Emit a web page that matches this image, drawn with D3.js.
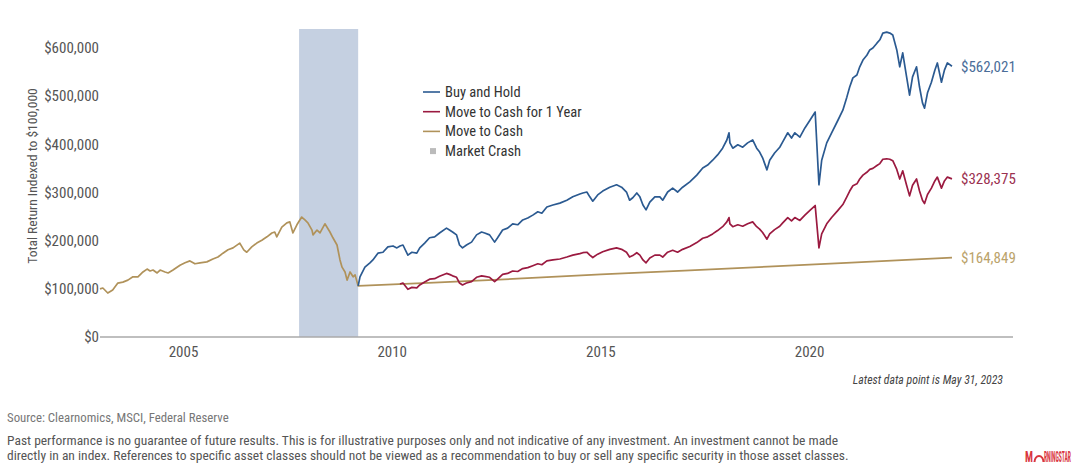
<!DOCTYPE html>
<html>
<head>
<meta charset="utf-8">
<script src="https://cdn.jsdelivr.net/npm/d3@7"></script>
<style>
  body { margin: 0; background: #fff; }
  svg { display: block; }
</style>
</head>
<body>
<div id="chart"></div>
<script>
// values, in thousands of dollars
var sharedPath = [
  ["2003-01-01", 100], ["2003-01-26", 101.7], ["2003-03-10", 91.3], ["2003-04-22", 97.6],
  ["2003-06-06", 112], ["2003-07-20", 114], ["2003-09-02", 118], ["2003-10-16", 125],
  ["2003-11-29", 125], ["2004-01-12", 135], ["2004-02-17", 141], ["2004-03-14", 137],
  ["2004-04-09", 139], ["2004-05-15", 133], ["2004-06-10", 139], ["2004-07-23", 135],
  ["2004-08-19", 133], ["2004-10-01", 139], ["2004-12-01", 149], ["2005-01-14", 154],
  ["2005-02-26", 158], ["2005-04-11", 152], ["2005-05-25", 154], ["2005-07-24", 156],
  ["2005-09-15", 162], ["2005-10-29", 166], ["2005-12-12", 174], ["2006-01-25", 181],
  ["2006-03-10", 185], ["2006-05-08", 195], ["2006-06-12", 181], ["2006-07-08", 176],
  ["2006-08-21", 187], ["2006-10-04", 195], ["2006-11-17", 201], ["2007-01-01", 208],
  ["2007-02-13", 216], ["2007-03-10", 218], ["2007-03-28", 208], ["2007-05-11", 228],
  ["2007-06-24", 237], ["2007-07-20", 239], ["2007-08-16", 216], ["2007-09-20", 233],
  ["2007-11-01", 249], ["2007-11-29", 243], ["2007-12-25", 237], ["2008-01-30", 222],
  ["2008-02-08", 212], ["2008-03-14", 222], ["2008-04-09", 216], ["2008-05-22", 235],
  ["2008-07-05", 218], ["2008-07-31", 206], ["2008-09-05", 191], ["2008-10-01", 160],
  ["2008-10-19", 145], ["2008-11-14", 135], ["2008-12-02", 118], ["2008-12-28", 135],
  ["2009-01-24", 125], ["2009-02-10", 129], ["2009-03-09", 106]
];

var buyHoldPath = [
  ["2009-03-09", 106], ["2009-03-25", 125], ["2009-05-07", 145], ["2009-06-20", 154],
  ["2009-07-16", 160], ["2009-08-29", 174], ["2009-10-12", 176], ["2009-11-24", 187],
  ["2010-01-08", 189], ["2010-02-11", 185], ["2010-03-10", 189], ["2010-04-05", 191],
  ["2010-05-18", 170], ["2010-06-22", 176], ["2010-08-04", 174], ["2010-08-30", 185],
  ["2010-10-12", 195], ["2010-11-24", 206], ["2011-01-07", 208], ["2011-02-19", 216],
  ["2011-04-21", 226], ["2011-05-17", 222], ["2011-06-13", 218], ["2011-07-18", 212],
  ["2011-08-13", 191], ["2011-09-08", 185], ["2011-10-13", 191], ["2011-11-26", 197],
  ["2012-01-09", 212], ["2012-02-22", 218], ["2012-03-20", 216], ["2012-05-02", 212],
  ["2012-06-15", 197], ["2012-07-11", 206], ["2012-08-24", 222], ["2012-10-07", 226],
  ["2012-11-20", 235], ["2013-01-03", 233], ["2013-02-16", 243], ["2013-04-01", 247],
  ["2013-05-15", 253], ["2013-06-28", 260], ["2013-08-02", 257], ["2013-09-15", 270],
  ["2013-11-07", 274], ["2014-01-07", 278], ["2014-03-09", 284], ["2014-04-30", 291],
  ["2014-07-01", 297], ["2014-07-27", 299], ["2014-08-31", 301], ["2014-09-26", 291],
  ["2014-10-22", 282], ["2014-12-04", 295], ["2015-01-17", 303], ["2015-03-20", 311],
  ["2015-05-18", 316], ["2015-07-01", 311], ["2015-08-13", 301], ["2015-09-09", 284],
  ["2015-10-07", 289], ["2015-11-11", 299], ["2015-12-08", 291], ["2016-01-04", 274],
  ["2016-01-31", 264], ["2016-03-04", 280], ["2016-04-17", 291], ["2016-05-31", 291],
  ["2016-06-25", 284], ["2016-08-07", 301], ["2016-09-20", 309], ["2016-11-02", 301],
  ["2016-12-16", 311], ["2017-02-17", 322], ["2017-04-19", 336], ["2017-06-10", 351],
  ["2017-07-23", 357], ["2017-09-05", 367], ["2017-10-18", 378], ["2017-12-01", 392],
  ["2018-01-07", 409], ["2018-01-26", 424], ["2018-02-03", 403], ["2018-02-28", 392],
  ["2018-04-13", 399], ["2018-05-26", 394], ["2018-07-08", 403], ["2018-08-21", 409],
  ["2018-09-25", 392], ["2018-10-21", 384], ["2018-11-16", 372], ["2018-12-24", 347],
  ["2019-01-17", 367], ["2019-03-01", 382], ["2019-04-15", 394], ["2019-05-11", 405],
  ["2019-06-24", 424], ["2019-07-27", 413], ["2019-08-25", 424], ["2019-10-08", 415],
  ["2019-11-21", 434], ["2020-01-04", 450], ["2020-02-19", 467], ["2020-03-23", 316],
  ["2020-04-16", 367], ["2020-05-30", 403], ["2020-07-12", 424], ["2020-09-05", 450],
  ["2020-10-18", 471], ["2020-11-22", 498], ["2020-12-17", 519], ["2021-01-14", 538],
  ["2021-02-18", 544], ["2021-03-15", 561], ["2021-04-12", 575], ["2021-05-16", 585],
  ["2021-06-11", 596], ["2021-07-08", 600], ["2021-08-12", 610], ["2021-09-07", 617],
  ["2021-10-03", 631], ["2021-11-06", 633], ["2021-12-03", 631], ["2021-12-29", 627],
  ["2022-02-02", 596], ["2022-02-28", 561], ["2022-03-26", 590], ["2022-04-29", 540],
  ["2022-05-25", 502], ["2022-06-20", 540], ["2022-07-25", 561], ["2022-08-20", 519],
  ["2022-09-15", 486], ["2022-10-03", 475], ["2022-10-29", 507], ["2022-12-02", 529],
  ["2023-01-01", 554], ["2023-01-23", 569], ["2023-02-28", 529], ["2023-03-26", 554],
  ["2023-04-21", 569], ["2023-05-31", 562.021]
];

var cashYearPath = [
  ["2010-03-10", 110], ["2010-04-05", 112], ["2010-05-18", 99], ["2010-06-22", 103],
  ["2010-08-04", 102], ["2010-08-30", 108], ["2010-10-12", 114], ["2010-11-24", 120],
  ["2011-01-07", 121], ["2011-02-19", 126], ["2011-04-21", 132], ["2011-05-17", 130],
  ["2011-06-13", 127], ["2011-07-18", 124], ["2011-08-13", 112], ["2011-09-08", 108],
  ["2011-10-13", 112], ["2011-11-26", 115], ["2012-01-09", 124], ["2012-02-22", 127],
  ["2012-03-20", 126], ["2012-05-02", 124], ["2012-06-15", 115], ["2012-07-11", 120],
  ["2012-08-24", 130], ["2012-10-07", 132], ["2012-11-20", 137], ["2013-01-03", 136],
  ["2013-02-16", 142], ["2013-04-01", 144], ["2013-05-15", 148], ["2013-06-28", 152],
  ["2013-08-02", 150], ["2013-09-15", 158], ["2013-11-07", 160], ["2014-01-07", 162],
  ["2014-03-09", 166], ["2014-04-30", 170], ["2014-07-01", 173], ["2014-07-27", 175],
  ["2014-08-31", 176], ["2014-09-26", 170], ["2014-10-22", 165], ["2014-12-04", 172],
  ["2015-01-17", 177], ["2015-03-20", 182], ["2015-05-18", 185], ["2015-07-01", 182],
  ["2015-08-13", 176], ["2015-09-09", 166], ["2015-10-07", 169], ["2015-11-11", 175],
  ["2015-12-08", 170], ["2016-01-04", 160], ["2016-01-31", 154], ["2016-03-04", 164],
  ["2016-04-17", 170], ["2016-05-31", 170], ["2016-06-25", 166], ["2016-08-07", 176],
  ["2016-09-20", 180], ["2016-11-02", 176], ["2016-12-16", 182], ["2017-02-17", 188],
  ["2017-04-19", 196], ["2017-06-10", 205], ["2017-07-23", 208], ["2017-09-05", 214],
  ["2017-10-18", 221], ["2017-12-01", 229], ["2018-01-07", 239], ["2018-01-26", 248],
  ["2018-02-03", 235], ["2018-02-28", 229], ["2018-04-13", 233], ["2018-05-26", 230],
  ["2018-07-08", 235], ["2018-08-21", 239], ["2018-09-25", 229], ["2018-10-21", 224],
  ["2018-11-16", 217], ["2018-12-24", 203], ["2019-01-17", 214], ["2019-03-01", 223],
  ["2019-04-15", 230], ["2019-05-11", 237], ["2019-06-24", 248], ["2019-07-27", 241],
  ["2019-08-25", 248], ["2019-10-08", 242], ["2019-11-21", 253], ["2020-01-04", 263],
  ["2020-02-19", 273], ["2020-03-23", 185], ["2020-04-16", 214], ["2020-05-30", 235],
  ["2020-07-12", 248], ["2020-09-05", 263], ["2020-10-18", 275], ["2020-11-22", 291],
  ["2020-12-17", 303], ["2021-01-14", 314], ["2021-02-18", 318], ["2021-03-15", 328],
  ["2021-04-12", 336], ["2021-05-16", 342], ["2021-06-11", 348], ["2021-07-08", 350],
  ["2021-08-12", 356], ["2021-09-07", 360], ["2021-10-03", 369], ["2021-11-06", 370],
  ["2021-12-03", 369], ["2021-12-29", 366], ["2022-02-02", 348], ["2022-02-28", 328],
  ["2022-03-26", 345], ["2022-04-29", 315], ["2022-05-25", 293], ["2022-06-20", 315],
  ["2022-07-25", 328], ["2022-08-20", 303], ["2022-09-15", 284], ["2022-10-03", 277],
  ["2022-10-29", 296], ["2022-12-02", 309], ["2023-01-01", 324], ["2023-01-23", 332],
  ["2023-02-28", 309], ["2023-03-26", 324], ["2023-04-21", 332], ["2023-05-31", 328.375]
];

var cashPath = [
  ["2009-03-09", 106], ["2011-01-01", 113], ["2013-01-01", 121], ["2015-01-01", 130],
  ["2017-01-01", 138], ["2019-01-01", 146], ["2021-01-01", 154.5], ["2023-05-31", 164.849]
];

var crashDates = ["2007-10-09", "2009-03-09"];
var xTickYears = [2005, 2010, 2015, 2020];
var yTicks = [0, 100000, 200000, 300000, 400000, 500000, 600000];
var legendItems = ["Buy and Hold", "Move to Cash for 1 Year", "Move to Cash", "Market Crash"];
var lineColors = { buy: "#2b5a91", year: "#9b1a40", cash: "#b0925a" };
var labelColors = { buy: "#4a6d99", year: "#9b3150", cash: "#bba36b" };

var W = 1076, H = 466;
var cond = "'Liberation Sans Narrow','Roboto Condensed','DejaVu Sans Condensed',sans-serif";
var parse = d3.timeParse("%Y-%m-%d");

var svg = d3.select("#chart").append("svg")
    .attr("width", W).attr("height", H)
    .style("font-family", cond);

var x = d3.scaleTime()
    .domain([new Date(2003, 0, 1), new Date(2024, 10, 15)])
    .range([100, 1013]);
var y = d3.scaleLinear().domain([0, 600000]).range([337, 48]);

function toPts(arr) {
    return arr.map(function(d) { return { date: parse(d[0]), value: d[1] * 1000 }; });
}

// market crash band
svg.append("rect")
    .attr("x", x(parse(crashDates[0])))
    .attr("y", 29)
    .attr("width", x(parse(crashDates[1])) - x(parse(crashDates[0])))
    .attr("height", y(0) - 29)
    .attr("fill", "#c5d0e1");

// y labels
svg.append("g").selectAll("text").data(yTicks).enter().append("text")
    .attr("x", 99).attr("y", function(d) { return y(d); })
    .attr("dy", "0.35em")
    .attr("text-anchor", "end")
    .attr("font-size", 15)
    .attr("fill", "#555")
    .text(function(d) { return d3.format("$,")(d); });

svg.append("text")
    .attr("transform", "translate(37,176) rotate(-90)")
    .attr("text-anchor", "middle")
    .attr("font-size", 13.5)
    .attr("fill", "#555")
    .text("Total Return Indexed to $100,000");

// x axis
svg.append("line")
    .attr("x1", 100).attr("x2", 1013)
    .attr("y1", y(0)).attr("y2", y(0))
    .attr("stroke", "#aaa").attr("stroke-width", 1.3);

svg.append("g").selectAll("text").data(xTickYears).enter().append("text")
    .attr("x", function(d) { return x(new Date(d, 0, 1)); })
    .attr("y", 357)
    .attr("text-anchor", "middle")
    .attr("font-size", 15)
    .attr("fill", "#555")
    .text(function(d) { return d; });

var line = d3.line()
    .x(function(d) { return x(d.date); })
    .y(function(d) { return y(d.value); });

var cashAll = toPts(sharedPath).concat(toPts(cashPath).slice(1));
var yearAll = toPts(cashYearPath);
var buyAll = toPts(buyHoldPath);

svg.append("path").datum(cashAll).attr("d", line)
    .attr("fill", "none").attr("stroke", lineColors.cash).attr("stroke-width", 1.7)
    .attr("stroke-linejoin", "round");
svg.append("path").datum(yearAll).attr("d", line)
    .attr("fill", "none").attr("stroke", lineColors.year).attr("stroke-width", 1.7)
    .attr("stroke-linejoin", "round");
svg.append("path").datum(buyAll).attr("d", line)
    .attr("fill", "none").attr("stroke", lineColors.buy).attr("stroke-width", 1.7)
    .attr("stroke-linejoin", "round");

// end labels
var ends = [
    { v: buyAll[buyAll.length - 1].value, c: labelColors.buy },
    { v: yearAll[yearAll.length - 1].value, c: labelColors.year },
    { v: cashAll[cashAll.length - 1].value, c: labelColors.cash }
];
svg.append("g").selectAll("text").data(ends).enter().append("text")
    .attr("x", 961)
    .attr("y", function(d) { return y(d.v); })
    .attr("dy", "0.35em")
    .attr("font-size", 15)
    .attr("fill", function(d) { return d.c; })
    .text(function(d) { return d3.format("$,.0f")(d.v); });

// legend
var legColors = [lineColors.buy, lineColors.year, lineColors.cash, "#bbb"];
var leg = svg.append("g").attr("transform", "translate(423,92)");
legendItems.forEach(function(name, i) {
    var g = leg.append("g").attr("transform", "translate(0," + (i * 19.7) + ")");
    if (i < 3) {
        g.append("line").attr("x1", 0).attr("x2", 17).attr("y1", 0).attr("y2", 0)
            .attr("stroke", legColors[i]).attr("stroke-width", 1.6);
    } else {
        g.append("rect").attr("x", 7).attr("y", -3).attr("width", 6).attr("height", 6)
            .attr("fill", legColors[i]);
    }
    g.append("text").attr("x", 22).attr("dy", "0.35em")
        .attr("font-size", 14.5).attr("fill", "#333").text(name);
});

// notes
svg.append("text")
    .attr("x", 1003).attr("y", 384)
    .attr("text-anchor", "end")
    .attr("font-size", 11.8).attr("font-style", "italic")
    .attr("fill", "#444")
    .text("Latest data point is May 31, 2023");

svg.append("text")
    .attr("x", 7).attr("y", 422)
    .attr("font-size", 12.8).attr("fill", "#777")
    .text("Source: Clearnomics, MSCI, Federal Reserve");

var disclaimer = [
    "Past performance is no guarantee of future results. This is for illustrative purposes only and not indicative of any investment. An investment cannot be made",
    "directly in an index. References to specific asset classes should not be viewed as a recommendation to buy or sell any specific security in those asset classes."
];
svg.append("g").selectAll("text").data(disclaimer).enter().append("text")
    .attr("x", 7).attr("y", function(d, i) { return 445 + i * 15; })
    .attr("font-size", 13.5).attr("fill", "#555")
    .text(function(d) { return d; });

// logo, squeezed horizontally to fit the corner
var logoRed = "#d9363e";
function squeezed(txt, left, width) {
    var t = svg.append("text").attr("y", 0)
        .attr("fill", logoRed).attr("font-weight", "bold").attr("font-size", 14)
        .text(txt);
    var k = width / t.node().getComputedTextLength();
    t.attr("transform", "translate(" + left + ",462) scale(" + k + ",1)");
}
squeezed("M", 1025, 8);
svg.append("path")
    .attr("d", "M1034.5,462 A4.5,6 0 0 1 1043.5,462")
    .attr("fill", "none").attr("stroke", logoRed).attr("stroke-width", 2);
squeezed("RNINGSTAR", 1044, 27);
</script>
</body>
</html>
